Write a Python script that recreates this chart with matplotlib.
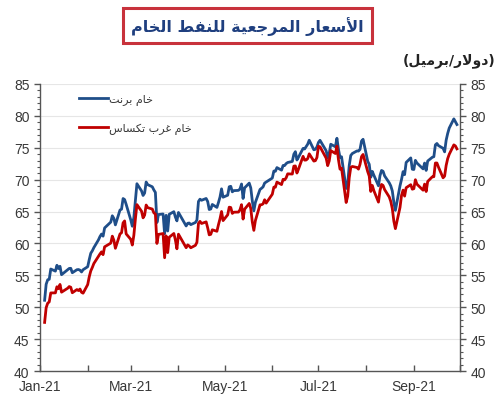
import matplotlib
matplotlib.use("Agg")
import matplotlib.pyplot as plt
import matplotlib.dates as mdates
from matplotlib.ticker import MultipleLocator, FuncFormatter
import pandas as pd

# ---------------- data (2021, daily settlements) -------------
DATES = [
    "01-04", "01-05", "01-06", "01-07", "01-08", "01-11", "01-12", "01-13", "01-14", "01-15",
    "01-19", "01-20", "01-21", "01-22", "01-25", "01-26", "01-27", "01-28", "01-29",
    "02-01", "02-02", "02-03", "02-04", "02-05", "02-08", "02-09", "02-10", "02-11", "02-12",
    "02-16", "02-17", "02-18", "02-19", "02-22", "02-23", "02-24", "02-25", "02-26",
    "03-01", "03-02", "03-03", "03-04", "03-05", "03-08", "03-09", "03-10", "03-11", "03-12",
    "03-15", "03-16", "03-17", "03-18", "03-19", "03-22", "03-23", "03-24", "03-25", "03-26",
    "03-29", "03-30", "03-31", "04-01", "04-06", "04-07", "04-08", "04-09",
    "04-12", "04-13", "04-14", "04-15", "04-16", "04-19", "04-20", "04-21", "04-22", "04-23",
    "04-26", "04-27", "04-28", "04-29", "04-30", "05-03", "05-04", "05-05", "05-06", "05-07",
    "05-10", "05-11", "05-12", "05-13", "05-14", "05-17", "05-18", "05-19", "05-20", "05-21",
    "05-24", "05-25", "05-26", "05-27", "05-28", "06-01", "06-02", "06-03", "06-04",
    "06-07", "06-08", "06-09", "06-10", "06-11", "06-14", "06-15", "06-16", "06-17", "06-18",
    "06-21", "06-22", "06-23", "06-24", "06-25", "06-28", "06-29", "06-30", "07-01", "07-02",
    "07-06", "07-07", "07-08", "07-09", "07-12", "07-13", "07-14", "07-15", "07-16",
    "07-19", "07-20", "07-21", "07-22", "07-23", "07-26", "07-27", "07-28", "07-29", "07-30",
    "08-02", "08-03", "08-04", "08-05", "08-06", "08-09", "08-10", "08-11", "08-12", "08-13",
    "08-16", "08-17", "08-18", "08-19", "08-20", "08-23", "08-24", "08-25", "08-26", "08-27",
    "08-30", "08-31", "09-01", "09-02", "09-03", "09-07", "09-08", "09-09", "09-10",
    "09-13", "09-14", "09-15", "09-16", "09-17", "09-20", "09-21", "09-22", "09-23", "09-24",
    "09-27", "09-28", "09-29",
]

BRENT = [
    51.09, 53.60, 54.30, 54.38, 55.99, 55.66, 56.58, 56.06, 56.42, 55.10,
    55.90, 56.08, 56.10, 55.41, 55.88, 55.91, 55.81, 55.53, 55.88,
    56.35, 57.46, 58.46, 58.84, 59.34, 60.56, 61.09, 61.47, 61.14, 62.43,
    63.35, 64.34, 63.93, 62.91, 65.24, 65.37, 67.04, 66.88, 66.13,
    63.69, 62.70, 64.07, 66.74, 69.36, 68.24, 67.52, 67.90, 69.63, 69.22,
    68.88, 68.39, 68.00, 63.28, 64.53, 64.62, 61.50, 64.41, 61.95, 64.57,
    64.98, 64.14, 63.54, 64.86, 62.74, 63.16, 63.20, 62.95,
    63.28, 63.67, 66.58, 66.94, 66.77, 67.05, 66.57, 65.32, 65.40, 66.11,
    65.65, 66.42, 67.27, 68.56, 67.25, 67.56, 68.88, 68.96, 68.09, 68.28,
    68.32, 68.55, 69.32, 67.05, 68.71, 69.46, 68.71, 66.66, 65.11, 66.44,
    68.46, 68.65, 68.87, 69.46, 69.63, 70.25, 71.35, 71.31, 71.89,
    71.49, 72.22, 72.22, 72.52, 72.69, 72.86, 73.99, 74.39, 73.08, 73.51,
    74.90, 74.81, 75.19, 75.56, 76.18, 74.68, 74.76, 75.13, 75.84, 76.17,
    74.53, 73.43, 74.12, 75.55, 75.16, 76.49, 74.76, 73.47, 73.59,
    68.62, 69.35, 72.23, 73.79, 74.10, 74.50, 74.48, 74.74, 76.05, 76.33,
    72.89, 72.41, 70.38, 71.29, 70.70, 69.04, 70.63, 71.44, 71.31, 70.59,
    69.51, 69.03, 68.23, 66.45, 65.18, 69.03, 70.05, 71.25, 70.79, 72.70,
    73.41, 71.63, 71.59, 73.03, 72.61, 71.69, 72.60, 71.45, 72.92,
    73.51, 73.60, 75.46, 75.67, 75.34, 74.92, 74.36, 76.19, 77.25, 78.09,
    79.53, 79.09, 78.64,
]

WTI = [
    47.62, 49.93, 50.63, 50.83, 52.24, 52.25, 53.21, 52.91, 53.57, 52.36,
    52.98, 53.24, 53.13, 52.27, 52.77, 52.61, 52.85, 52.34, 52.20,
    53.55, 54.76, 55.69, 56.23, 56.85, 57.97, 58.36, 58.68, 58.24, 59.47,
    60.05, 61.14, 60.52, 59.24, 61.49, 61.67, 63.22, 63.53, 61.50,
    60.64, 59.75, 61.28, 63.83, 66.09, 65.05, 64.01, 64.44, 66.02, 65.61,
    65.39, 64.80, 64.60, 60.00, 61.42, 61.55, 57.76, 61.18, 58.56, 60.97,
    61.56, 60.55, 59.16, 61.45, 59.33, 59.77, 59.60, 59.32,
    59.70, 60.18, 63.15, 63.46, 63.13, 63.38, 62.44, 61.35, 61.43, 62.14,
    61.91, 62.94, 63.86, 65.01, 63.58, 64.49, 65.69, 65.63, 64.71, 64.90,
    64.92, 65.28, 66.08, 63.82, 65.37, 66.27, 65.49, 63.36, 62.05, 63.58,
    66.05, 66.07, 66.21, 66.85, 66.32, 67.72, 68.83, 68.81, 69.62,
    69.23, 70.05, 69.96, 70.29, 70.91, 70.88, 72.12, 72.15, 71.04, 71.64,
    73.66, 73.06, 73.08, 73.30, 74.05, 72.91, 72.98, 73.47, 75.23, 75.16,
    73.37, 72.20, 72.94, 74.56, 74.10, 75.25, 73.13, 71.65, 71.81,
    66.42, 67.42, 70.30, 71.91, 72.07, 71.91, 71.65, 72.39, 73.62, 73.95,
    71.26, 70.56, 68.15, 69.09, 68.28, 66.48, 68.29, 69.25, 69.09, 68.44,
    67.29, 66.59, 65.46, 63.50, 62.32, 65.64, 67.54, 68.36, 67.42, 68.74,
    69.21, 68.50, 68.59, 69.99, 69.29, 68.35, 69.30, 68.14, 69.72,
    70.45, 70.46, 72.61, 72.61, 71.97, 70.29, 70.56, 72.23, 73.30, 73.98,
    75.45, 75.29, 74.83,
]

TITLE = "الأسعار المرجعية للنفط الخام"
UNIT = "(دولار/برميل)"
LABEL_BRENT = "خام برنت"
LABEL_WTI = "خام غرب تكساس"
MONTH_LABELS = {1: "Jan-21", 3: "Mar-21", 5: "May-21", 7: "Jul-21", 9: "Sep-21"}

BLUE = "#1f4e89"
RED = "#c00000"
TEXT = "#383838"


# ---------------- minimal Arabic shaping (matplotlib has no bidi/shaping) ------
DUAL = {"ب": 0xFE8F, "ت": 0xFE95, "ث": 0xFE99, "ج": 0xFE9D, "ح": 0xFEA1, "خ": 0xFEA5,
        "س": 0xFEB1, "ش": 0xFEB5, "ص": 0xFEB9, "ض": 0xFEBD, "ط": 0xFEC1, "ظ": 0xFEC5,
        "ع": 0xFEC9, "غ": 0xFECD, "ف": 0xFED1, "ق": 0xFED5, "ك": 0xFED9, "ل": 0xFEDD,
        "م": 0xFEE1, "ن": 0xFEE5, "ه": 0xFEE9, "ي": 0xFEF1}
RIGHT = {"ا": 0xFE8D, "أ": 0xFE83, "إ": 0xFE87, "آ": 0xFE81, "د": 0xFEA9, "ذ": 0xFEAB,
         "ر": 0xFEAD, "ز": 0xFEAF, "و": 0xFEED, "ة": 0xFE93, "ى": 0xFEEF}
LAM_ALEF = {"ا": 0xFEFB, "أ": 0xFEF7, "إ": 0xFEF9, "آ": 0xFEF5}


def shape(text):
    out = []
    i = 0
    n = len(text)
    while i < n:
        c = text[i]
        prev = text[i - 1] if i > 0 else ""
        prev_joins = prev in DUAL
        if c == "ل" and i + 1 < n and text[i + 1] in LAM_ALEF:
            base = LAM_ALEF[text[i + 1]]
            out.append(chr(base + 1 if prev_joins else base))
            i += 2
            continue
        nxt = text[i + 1] if i + 1 < n else ""
        next_joins = nxt in DUAL or nxt in RIGHT
        if c in DUAL:
            b = DUAL[c]
            if prev_joins and next_joins:
                out.append(chr(b + 3))
            elif prev_joins:
                out.append(chr(b + 1))
            elif next_joins:
                out.append(chr(b + 2))
            else:
                out.append(chr(b))
        elif c in RIGHT:
            b = RIGHT[c]
            out.append(chr(b + 1 if prev_joins else b))
        else:
            out.append(c)
        i += 1
    vis = "".join(reversed(out))
    return vis.translate(str.maketrans("()", ")("))


# ---------------- plot ----------------
plt.rcParams["font.family"] = ["Liberation Sans", "DejaVu Sans"]

dates = pd.to_datetime(["2021-" + d for d in DATES])

fig = plt.figure(figsize=(5.0, 4.02), dpi=100)
ax = fig.add_axes([0.08, 0.0746, 0.84, 0.714])

ax.plot(dates, BRENT, color=BLUE, lw=2.0, label=shape(LABEL_BRENT))
ax.plot(dates, WTI, color=RED, lw=2.0, label=shape(LABEL_WTI))

ax.set_ylim(40, 85)
ax.set_xlim(pd.Timestamp("2021-01-01"), pd.Timestamp("2021-10-01"))

ax.yaxis.set_major_locator(MultipleLocator(5))
ax.yaxis.set_minor_locator(MultipleLocator(1))
ax.grid(axis="y", which="major", color="#e6e6e6", lw=0.8)
ax.set_axisbelow(True)

ax.xaxis.set_major_locator(mdates.MonthLocator())
ax.xaxis.set_major_formatter(
    FuncFormatter(lambda v, p: MONTH_LABELS.get(mdates.num2date(v).month, "")))

for s in ["left", "right", "bottom"]:
    ax.spines[s].set_color("#555555")
    ax.spines[s].set_linewidth(1.0)
ax.spines["top"].set_visible(False)

ax.tick_params(axis="y", which="major", direction="out", length=4, width=1,
               color="#555555", labelsize=10, labelcolor=TEXT,
               left=True, right=True, labelleft=True, labelright=True)
ax.tick_params(axis="y", which="minor", direction="out", length=2, width=0.8,
               color="#555555", left=True, right=True)
ax.tick_params(axis="x", which="major", direction="in", length=4, width=1,
               color="#555555", labelsize=10, labelcolor=TEXT, pad=6)

leg = ax.legend(loc="upper left", bbox_to_anchor=(0.07, 1.0), frameon=False,
                handlelength=2.6, handletextpad=0.1, labelspacing=1.55,
                prop={"family": "DejaVu Sans", "size": 8})
for t in leg.get_texts():
    t.set_color(TEXT)

# title in a red box
fig.text(0.495, 0.934, shape(TITLE), ha="center", va="center",
         fontsize=11.5, fontweight="bold", color="#1f3f7f", family="DejaVu Sans",
         bbox=dict(boxstyle="square,pad=0.5", fc="white", ec="#c8323c", lw=2.2))

fig.text(0.99, 0.85, shape(UNIT), ha="right", va="center",
         fontsize=10, fontweight="bold", color="#222222", family="DejaVu Sans")

fig.savefig("out.png", dpi=100)
